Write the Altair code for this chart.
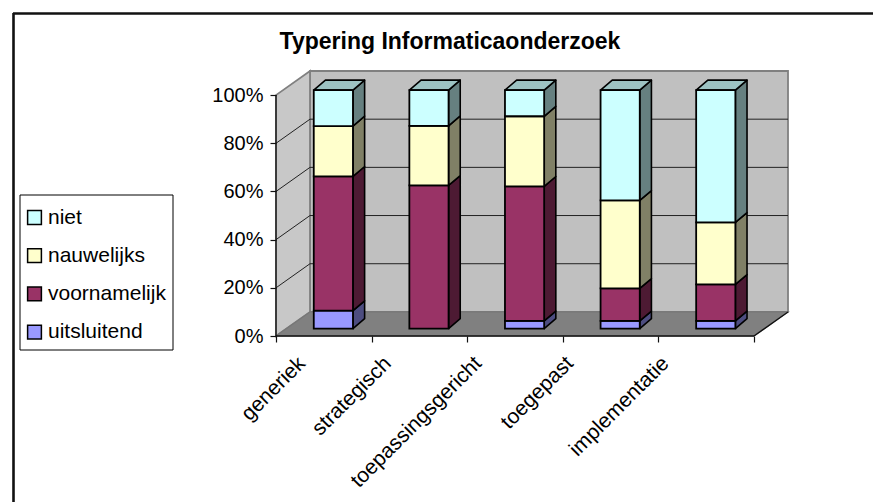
import altair as alt
import pandas as pd

categories = ["generiek", "strategisch", "toepassingsgericht", "toegepast", "implementatie"]
series = ["uitsluitend", "voornamelijk", "nauwelijks", "niet"]
uitsluitend = [7.5, 0.0, 3.2, 3.2, 3.2]
voornamelijk = [56.3, 60.0, 56.4, 13.6, 15.3]
nauwelijks = [21.1, 25.0, 29.4, 36.9, 26.0]
niet = [15.1, 15.0, 11.0, 46.3, 55.5]
front_colors = ["#9999FF", "#993366", "#FFFFCC", "#CCFFFF"]
side_colors = ["#4D4D80", "#4D1A33", "#808066", "#668080"]
top_color = "#9DC3C3"
ticks_y = [0, 20, 40, 60, 80, 100]
grid_y = [20, 40, 60, 80]

# 3D projection parameters, in scale units
WALL_DX, WALL_DY = 0.3556, 10.0
BAR_X0, BAR_W = 0.395, 0.41
BAR_DX, BAR_DY = 0.122, 4.1
BAR_BASE = 3.1
N = len(categories)

values = [uitsluitend, voornamelijk, nauwelijks, niet]
front, side, top = [], [], []
for i, cat in enumerate(categories):
    x0 = i + BAR_X0
    x1 = x0 + BAR_W
    cum = 0.0
    for s, vals in enumerate(values):
        v = vals[i]
        lo, hi = cum, cum + v
        cum = hi
        if v <= 0:
            continue
        front.append(dict(cat=cat, series=series[s], x=x0, x2=x1,
                          y=lo * 0.99 + BAR_BASE, y2=hi * 0.99 + BAR_BASE))
        for dx, dy in ((0, 0), (BAR_DX, BAR_DY)):
            side.append(dict(id=f"{i}-{s}", col=side_colors[s], x=x1 + dx,
                             y=lo * 0.99 + BAR_BASE + dy, y2=hi * 0.99 + BAR_BASE + dy))
    yt = cum * 0.99 + BAR_BASE
    for dx, dy in ((0, 0), (BAR_DX, BAR_DY)):
        top.append(dict(id=str(i), col=top_color, x=x0 + dx, x2=x1 + dx, y=yt + dy))

# real axes, shared by all layers
axis_x_vals = [i / 2 for i in range(2 * N + 1)]
label_map = ",".join(f"'{c}'" for c in categories)
axis_x = alt.Axis(
    values=axis_x_vals, orient="bottom", title=None, grid=False, domain=False, zindex=1,
    tickColor="#111111", tickWidth=1.2,
    tickOpacity=alt.ExprRef("datum.value % 1 == 0 ? 1 : 0"),
    tickSize=6,
    labelExpr=f"datum.value % 1 == 0 ? '' : [{label_map}][floor(datum.value)]",
    labelAngle=-45, labelAlign="right", labelBaseline="middle",
    labelFont="Liberation Sans", labelFontSize=21, labelColor="black",
    labelOffset=alt.ExprRef("[-22,-32,-37,-41,-41,0][floor(datum.value)]"),
    labelPadding=18, labelOverlap=False, labelBound=False, labelFlush=False,
)
axis_y = alt.Axis(
    values=ticks_y, orient="left", title=None, grid=False, domain=False, zindex=1,
    tickColor="#111111", tickWidth=1.2, tickSize=6,
    labelExpr="datum.value + '%'", labelFont="Liberation Sans", labelFontSize=20,
    labelColor="black", labelPadding=7, labelOverlap=False, labelBound=False, labelFlush=False,
)

x_scale = alt.Scale(domain=[0, N + WALL_DX], nice=False, zero=False)
y_scale = alt.Scale(domain=[0, 100 + WALL_DY], nice=False, zero=False)
X = lambda f="x:Q", **k: alt.X(f, scale=x_scale, axis=axis_x, **k)
Y = lambda f="y:Q", **k: alt.Y(f, scale=y_scale, axis=axis_y, **k)
X2, Y2 = alt.X2("x2:Q"), alt.Y2("y2:Q")

one = pd.DataFrame({"a": [0]})
# outer frame of the picture: only a top and a left line are visible
frame_top = alt.Chart(one).mark_rule(color="#111111", strokeWidth=2.6).encode(
    x=alt.value(-263), x2=alt.value(600), y=alt.value(-57.5))
frame_left = alt.Chart(one).mark_rule(color="#111111", strokeWidth=2.6).encode(
    x=alt.value(-262.5), y=alt.value(-58), y2=alt.value(440))
legend_box = alt.Chart(one).mark_rect(fill="white", stroke="black", strokeWidth=1).encode(
    x=alt.value(-256), x2=alt.value(-103), y=alt.value(124), y2=alt.value(279))

# walls and floor
back_wall = alt.Chart(pd.DataFrame([dict(x=WALL_DX, x2=N + WALL_DX, y=WALL_DY, y2=100 + WALL_DY)])).mark_rect(
    fill="#C0C0C0", stroke="#808080", strokeWidth=1.8
).encode(x=X(), x2=X2, y=Y(), y2=Y2)
left_wall = alt.Chart(pd.DataFrame([dict(x=0, y=0, y2=100), dict(x=WALL_DX, y=WALL_DY, y2=100 + WALL_DY)])).mark_area(
    fill="#C8C8C8", stroke="#808080", strokeWidth=1.8, orient="vertical"
).encode(x=X(), y=Y(), y2=Y2)
floor = alt.Chart(pd.DataFrame([dict(y=0, x=0, x2=N), dict(y=WALL_DY, x=WALL_DX, x2=N + WALL_DX)])).mark_area(
    fill="#808080", stroke="#777777", strokeWidth=1.2, orient="horizontal"
).encode(y=Y(), x=X(), x2=X2)

grid_back = alt.Chart(pd.DataFrame([dict(x=WALL_DX, x2=N + WALL_DX, y=g + WALL_DY) for g in grid_y])).mark_rule(
    color="#222222", strokeWidth=1
).encode(x=X(), x2=X2, y=Y())
grid_left = alt.Chart(pd.DataFrame([dict(x=0, x2=WALL_DX, y=g, y2=g + WALL_DY) for g in grid_y])).mark_rule(
    color="#222222", strokeWidth=1
).encode(x=X(), x2=X2, y=Y(), y2=Y2)
edges = alt.Chart(pd.DataFrame([
    dict(x=0, x2=0, y=0, y2=100),
    dict(x=0, x2=N, y=0, y2=0),
    dict(x=N, x2=N + WALL_DX, y=0, y2=WALL_DY),
])).mark_rule(color="#111111", strokeWidth=1.3).encode(x=X(), x2=X2, y=Y(), y2=Y2)

# bars
side_layer = alt.Chart(pd.DataFrame(side)).mark_area(
    stroke="black", strokeWidth=1.6, orient="vertical", strokeJoin="round"
).encode(
    x=X(), y=Y(), y2=Y2, detail="id:N",
    fill=alt.Fill("col:N", scale=None, legend=None),
)
top_layer = alt.Chart(pd.DataFrame(top)).mark_area(
    stroke="black", strokeWidth=1.6, orient="horizontal", strokeJoin="round"
).encode(
    y=Y(), x=X(), x2=X2, detail="id:N",
    fill=alt.Fill("col:N", scale=None, legend=None),
)
front_layer = alt.Chart(pd.DataFrame(front)).mark_rect(stroke="black", strokeWidth=1.8).encode(
    x=X(), x2=X2, y=Y(), y2=Y2,
    fill=alt.Fill(
        "series:N",
        scale=alt.Scale(domain=series[::-1], range=front_colors[::-1]),
        legend=alt.Legend(
            title=None, orient="none", legendX=-252, legendY=136,
            symbolType="square", symbolSize=190, symbolStrokeColor="black", symbolStrokeWidth=1.5,
            labelFont="Liberation Sans", labelFontSize=21, labelColor="black",
            rowPadding=16.2, padding=0, labelOffset=3, values=series[::-1],
        ),
    ),
)

chart = alt.layer(
    frame_top, frame_left, legend_box, back_wall, left_wall, floor, grid_back, grid_left, edges,
    side_layer, top_layer, front_layer,
).resolve_scale(fill="independent").properties(
    width=512, height=265,
    title=alt.TitleParams(
        "Typering Informaticaonderzoek", anchor="middle", dx=-82, offset=-42,
        font="Liberation Sans", fontSize=23, fontWeight="bold", color="black",
    ),
    padding={"left": 268, "top": 63, "right": 85, "bottom": 166},
    autosize=alt.AutoSizeParams(type="none"),
    background="white",
).configure_view(stroke=None)

chart.save("out.html", embed_options={"renderer": "svg", "actions": False})
